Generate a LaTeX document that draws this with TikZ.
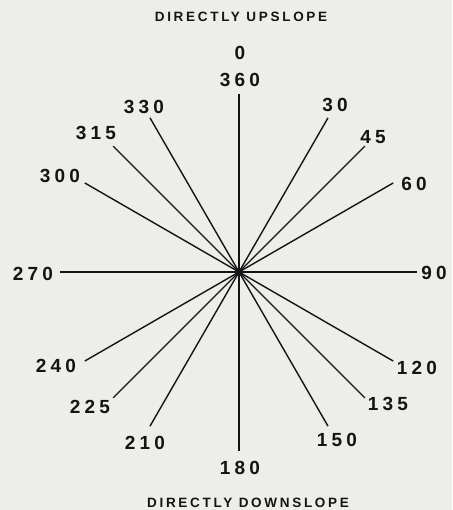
\documentclass[tikz,border=0pt]{standalone}
\usepackage{fontspec}
\newfontfamily\numfont[LetterSpace=22]{Liberation Sans Bold}
\newfontfamily\titfont[LetterSpace=20]{Liberation Sans Bold}
\usetikzlibrary{calc}
\definecolor{bg}{RGB}{237,237,233}
\definecolor{ink}{RGB}{20,20,20}
\begin{document}
\begin{tikzpicture}[x=1pt,y=-1pt,
  num/.style={font=\numfont\fontsize{19}{19}\selectfont, inner sep=0pt, anchor=center, text=ink},
  ttl/.style={font=\titfont\fontsize{13.5}{14}\selectfont, inner sep=0pt, text=ink},
  axisline/.style={line width=2.6pt, draw=ink},
  ray/.style={line width=1.4pt, draw=ink}]
\fill[bg] (0,0) rectangle (452,510);
\useasboundingbox (0,0) rectangle (452,510);
\coordinate (c) at (239,272);
\coordinate (top) at (239,94);
\coordinate (bot) at (239,451);
\coordinate (lft) at (60,272);
\coordinate (rgt) at (417,272);
\foreach \a in {30,45,60,120,135,150,210,225,240,300,315,330}{
  \pgfmathsetmacro{\b}{\a-90}
  \coordinate (e\a) at ($(c)+(\b:178)$);
}
\draw[axisline] (top) -- (bot);
\draw[axisline] (lft) -- (rgt);
\foreach \a in {30,45,60,120,135,150,210,225,240,300,315,330}{
  \draw[ray] (c) -- (e\a);
}
\node[ttl] (up) at (241,17) {DIRECTLY UPSLOPE};
\node[ttl] (down) at (248,503) {DIRECTLY DOWNSLOPE};
\node[num] (l0) at (240,53) {0};
\node[num] (l360) at (240,80) {360};
\node[num] (l30) at (335,105) {30};
\node[num] (l45) at (373,137) {45};
\node[num] (l60) at (414,184) {60};
\node[num] (l90) at (434,273) {90};
\node[num] (l120) at (417,368) {120};
\node[num] (l135) at (388,404) {135};
\node[num] (l150) at (337,440) {150};
\node[num] (l180) at (240,468) {180};
\node[num] (l210) at (145,443) {210};
\node[num] (l225) at (90,407) {225};
\node[num] (l240) at (56,366) {240};
\node[num] (l270) at (33,274) {270};
\node[num] (l300) at (60,176) {300};
\node[num] (l315) at (96,133) {315};
\node[num] (l330) at (144,107) {330};
\end{tikzpicture}
\end{document}
